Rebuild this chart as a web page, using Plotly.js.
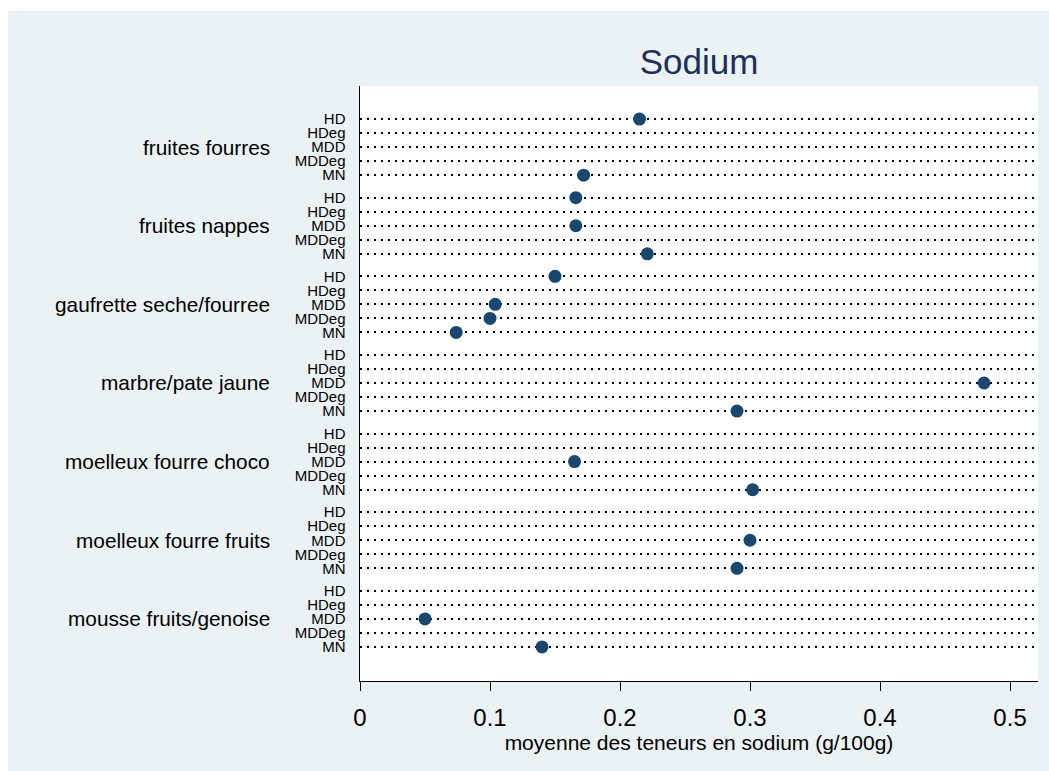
<!DOCTYPE html>
<html>
<head>
<meta charset="utf-8">
<script src="https://cdn.plot.ly/plotly-3.0.1.min.js"></script>
<style>
  html, body { margin: 0; padding: 0; background: #ffffff; }
  #chart { position: absolute; left: 8px; top: 11px; width: 1041px; height: 760px; }
</style>
</head>
<body>
<div id="chart"></div>
<script>
// ---- data ----
const groups = ["fruites fourres", "fruites nappes", "gaufrette seche/fourree",
                "marbre/pate jaune", "moelleux fourre choco", "moelleux fourre fruits",
                "mousse fruits/genoise"];
const subgroups = ["HD", "HDeg", "MDD", "MDDeg", "MN"];
const hd    = [0.215, 0.166, 0.150, null, null, null, null];
const hdeg  = [null, null, null, null, null, null, null];
const mdd   = [null, 0.166, 0.104, 0.480, 0.165, 0.300, 0.050];
const mddeg = [null, null, 0.100, null, null, null, null];
const mn    = [0.172, 0.221, 0.074, 0.290, 0.302, 0.290, 0.140];
const xTicks = [0, 0.1, 0.2, 0.3, 0.4, 0.5];
const xTickText = ["0", "0.1", "0.2", "0.3", "0.4", "0.5"];
const chartTitle = "Sodium";
const xTitle = "moyenne des teneurs en sodium (g/100g)";

// ---- layout logic ----
const series = [hd, hdeg, mdd, mddeg, mn];
const groupStep = 5.607;
const pos = (g, i) => g * groupStep + i;

const tickvals = [], ticktext = [];
const px = [], py = [];
groups.forEach((gname, g) => {
  subgroups.forEach((s, i) => {
    tickvals.push(pos(g, i));
    ticktext.push(s);
    const v = series[i][g];
    if (v !== null && v !== undefined) { px.push(v); py.push(pos(g, i)); }
  });
});

const annotations = groups.map((gname, g) => ({
  text: gname, xref: 'paper', yref: 'y', x: -0.1298, y: pos(g, 2),
  xanchor: 'right', yanchor: 'middle', showarrow: false,
  font: { family: 'Arial, "Liberation Sans", sans-serif', size: 20.8, color: '#000000' }
}));

const trace = {
  type: 'scatter', mode: 'markers', x: px, y: py,
  marker: { color: '#1a476f', size: 13, line: { width: 0 } },
  hoverinfo: 'x+y', showlegend: false, cliponaxis: false
};

const lastPos = pos(groups.length - 1, subgroups.length - 1);

const layout = {
  width: 1041, height: 760,
  paper_bgcolor: '#EAF2F3', plot_bgcolor: '#ffffff',
  margin: { l: 352, r: 11, t: 75, b: 90, pad: 0 },
  font: { family: 'Arial, "Liberation Sans", sans-serif', color: '#000000' },
  title: {
    text: chartTitle, x: 0.5, xref: 'paper', xanchor: 'center',
    y: 1 - 51 / 760, yref: 'container', yanchor: 'middle',
    font: { size: 35, color: '#1f2f5c', family: 'Arial, "Liberation Sans", sans-serif' }
  },
  xaxis: {
    range: [0, 0.5215], tickvals: xTicks, ticktext: xTickText,
    showgrid: false, zeroline: false,
    showline: true, linecolor: '#000000', linewidth: 1,
    ticks: 'outside', ticklen: 9, tickwidth: 1, tickcolor: '#000000',
    ticklabelstandoff: 6,
    tickfont: { size: 24, color: '#000000' },
    title: { text: xTitle, font: { size: 21, color: '#000000' }, standoff: 2 },
    fixedrange: true
  },
  yaxis: {
    range: [lastPos + 2.43, -2.357], tickvals: tickvals, ticktext: ticktext,
    showgrid: true, gridcolor: '#000000', gridwidth: 2, griddash: '2px,5px',
    zeroline: false, showline: true, linecolor: '#000000', linewidth: 1.5,
    ticks: '', ticklabelstandoff: 10,
    tickfont: { size: 15, color: '#000000' },
    fixedrange: true
  },
  annotations: annotations
};

Plotly.newPlot('chart', [trace], layout, { displayModeBar: false, staticPlot: true });
</script>
</body>
</html>
